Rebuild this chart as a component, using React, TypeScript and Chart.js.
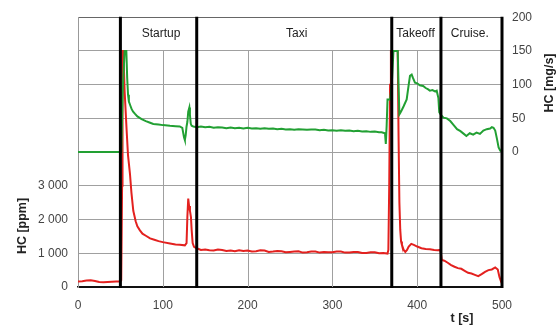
import React, { useEffect, useRef } from 'react';
import { Chart, registerables } from 'chart.js';
Chart.register(...registerables);

// ---- Data ----
const redT = [0, 5, 10, 15, 20, 25, 30, 35, 40, 45, 50, 51, 52, 52.5, 53.5, 55, 57.4, 59, 61.3, 63, 65.2, 68, 70, 73, 76, 80, 85, 90, 95, 100, 108.5, 115, 120, 126, 128, 129, 130, 131, 132, 133.2, 134, 135.2, 136.8, 140,
  145, 150, 155, 160, 165, 170, 175, 180, 185, 190, 195, 200, 205, 210, 215, 220, 225, 230, 235, 240, 245, 250, 255, 260, 265, 270, 275, 280, 285, 290, 295, 300, 305, 310, 315, 320, 325, 330, 335, 340, 345, 350, 355, 360, 365,
  366, 367, 368, 369, 377, 378, 379, 380, 381, 382, 384, 386, 388, 390, 393, 396, 400, 405, 410, 415, 420, 424, 427,
  428, 429, 432, 436, 440, 444, 448, 452, 456, 460, 464, 468, 472, 476, 480, 484, 488, 492, 495, 497, 499, 500];
const redV = [160, 170, 190, 200, 180, 150, 140, 150, 155, 160, 160, 200, 3000, 7000, 7000, 5800, 4620, 3900, 3350, 2800, 2260, 1950, 1800, 1680, 1580, 1520, 1440, 1400, 1360, 1330, 1290, 1260, 1250, 1235, 1300, 2100, 2620, 2400, 2260, 2070, 1700, 1300, 1190, 1150,
  1100, 1110, 1090, 1080, 1110, 1100, 1070, 1080, 1060, 1090, 1070, 1080, 1050, 1060, 1090, 1080, 1040, 1050, 1070, 1060, 1030, 1040, 1050, 1060, 1020, 1030, 1050, 1050, 1020, 1040, 1030, 1030, 1050, 1050, 1020, 1020, 1040, 1040, 1010, 1010, 1030, 1030, 1000, 1010, 990,
  1100, 3000, 6000, 7000, 7000, 4500, 2500, 1700, 1350, 1250, 1100, 1040, 1100, 1200, 1280, 1250, 1200, 1150, 1130, 1120, 1100, 1090, 1100,
  1000, 800, 780, 720, 650, 600, 560, 540, 480, 420, 400, 360, 320, 380, 450, 500, 520, 580, 520, 300, 150, 100];

const greenT = [0, 10, 20, 30, 40, 50, 51, 53, 55, 57, 58, 59, 60, 62, 63.3, 65, 67, 70, 75, 80, 85, 88.8, 95, 100, 108.5, 115, 120, 123, 125, 126, 127, 128, 129, 130, 131.3, 132, 133, 134, 136, 140,
  145, 150, 155, 160, 165, 170, 175, 180, 185, 190, 195, 200, 205, 210, 215, 220, 225, 230, 235, 240, 245, 250, 255, 260, 265, 270, 275, 280, 285, 290, 295, 300, 305, 310, 315, 320, 325, 330, 335, 340, 345, 350, 355, 358, 362, 363, 364, 365, 368, 370, 372,
  377, 378, 379, 380, 381.7, 384, 387.6, 390, 391.5, 393.5, 395, 397.4, 400, 403, 407, 410, 413, 415, 418, 421, 423, 425, 426,
  428, 431, 435, 439, 443, 447, 451, 455, 458, 462, 466, 470, 474, 478, 482, 486, 488, 490, 492, 494, 496, 498, 500];
const greenV = [0, 0, 0, 0, 0, 0, 0, 100, 150, 150, 110, 85, 75, 68, 63.7, 60, 57, 53, 49, 46, 43.5, 41.7, 41, 40, 39, 38.5, 38, 36, 22, 18, 25, 38, 45, 60, 66, 55, 42, 39, 38, 37,
  38, 37, 37.5, 36, 37, 36.5, 35.5, 36.5, 35.5, 36, 35, 36, 35, 35.5, 34.5, 35.5, 34.5, 35, 34, 34.5, 33.5, 34, 33, 34, 33.5, 33, 33.5, 33.5, 32.5, 33, 32, 32.5, 31.5, 32.5, 31.5, 32, 31, 31.5, 30.5, 31, 30, 30.5, 29.5, 29.5, 28, 12, 40, 78, 78, 100, 150,
  150, 100, 56, 58, 62, 68, 78, 100, 113, 115, 110, 103, 102, 99, 98, 95, 93, 91, 92, 90, 91, 80, 59,
  55, 51, 50, 46, 40, 34, 31, 27, 24, 28, 26, 29, 27, 32, 34, 35, 37, 36, 32, 20, 7, 2, 1];

const xTickValues = [0, 100, 200, 300, 400, 500];
const phaseBounds = [50, 140, 370, 428, 500];
const phaseLabels = ['Startup', 'Taxi', 'Takeoff', 'Cruise.'];
const phaseLabelPos = [98, 258, 398, 462];
const leftMax = 8000;
const bandBottom = 7000;
const leftLabelMax = 3000;
const rightMin = -200;
const rightMax = 200;

const FONT = '"Liberation Sans", Arial, sans-serif';

function fmtThousands(v: number): string {
  if (v < 1000) return String(v);
  const th = Math.floor(v / 1000);
  const rest = String(v % 1000).padStart(3, '0');
  return `${th} ${rest}`;
}

const overlay = {
  id: 'overlay',
  beforeDatasetsDraw(chart: any) {
    const { ctx, scales } = chart;
    const x = scales.x, y = scales.y;
    const yBand = y.getPixelForValue(bandBottom);
    const yBot = y.getPixelForValue(0);
    ctx.save();
    ctx.strokeStyle = '#a0a0a0';
    ctx.lineWidth = 1;
    for (const v of xTickValues) {
      if (v === 0 || v === 500) continue;
      const px = Math.round(x.getPixelForValue(v)) + 0.5;
      ctx.beginPath();
      ctx.moveTo(px, yBand);
      ctx.lineTo(px, yBot);
      ctx.stroke();
    }
    ctx.restore();
  },
  afterDatasetsDraw(chart: any) {
    const { ctx, scales } = chart;
    const x = scales.x, y = scales.y;
    const yTop = y.getPixelForValue(leftMax);
    const yBand = y.getPixelForValue(bandBottom);
    const yBot = y.getPixelForValue(0);
    ctx.save();
    ctx.strokeStyle = '#000';
    ctx.lineWidth = 3;
    for (const b of phaseBounds) {
      const px = x.getPixelForValue(b);
      ctx.beginPath();
      ctx.moveTo(px, yTop - 0.5);
      ctx.lineTo(px, yBot + 1);
      ctx.stroke();
    }
    ctx.fillStyle = '#222';
    ctx.font = `12px ${FONT}`;
    ctx.textAlign = 'center';
    ctx.textBaseline = 'middle';
    const yMid = (yTop + yBand) / 2;
    phaseLabels.forEach((l, i) => {
      ctx.fillText(l, x.getPixelForValue(phaseLabelPos[i]), yMid);
    });
    ctx.fillStyle = '#222';
    ctx.font = `bold 12.5px ${FONT}`;
    ctx.save();
    ctx.translate(23, 226);
    ctx.rotate(-Math.PI / 2);
    ctx.fillText('HC [ppm]', 0, 0);
    ctx.restore();
    ctx.save();
    ctx.translate(550, 83);
    ctx.rotate(-Math.PI / 2);
    ctx.fillText('HC [mg/s]', 0, 0);
    ctx.restore();
    ctx.fillText('t [s]', 462, 319);
    ctx.restore();
  },
};

export default function App() {
  const ref = useRef<HTMLCanvasElement | null>(null);
  useEffect(() => {
    if (!ref.current) return;
    const chart = new Chart(ref.current, {
      type: 'line',
      data: {
        datasets: [
          {
            label: 'HC mg/s',
            data: greenT.map((t, i) => ({ x: t, y: greenV[i] })),
            yAxisID: 'y2',
            borderColor: '#22a033',
            borderWidth: 2,
            pointRadius: 0,
            tension: 0,
          },
          {
            label: 'HC ppm',
            data: redT.map((t, i) => ({ x: t, y: redV[i] })),
            yAxisID: 'y',
            borderColor: '#e3211f',
            borderWidth: 2,
            pointRadius: 0,
            tension: 0,
          },
        ],
      },
      options: {
        responsive: false,
        animation: false,
        devicePixelRatio: 1,
        layout: { padding: { top: 14, left: 0, right: 0, bottom: 0 } },
        plugins: { legend: { display: false }, tooltip: { enabled: false } },
        scales: {
          x: {
            type: 'linear',
            min: 0,
            max: 500,
            afterFit: (s: any) => { s.height = 47; },
            afterBuildTicks: (s: any) => { s.ticks = xTickValues.map((v) => ({ value: v })); },
            ticks: { color: '#444', font: { family: FONT, size: 12 }, padding: 11, maxRotation: 0 },
            grid: { display: false, drawTicks: false },
            border: { display: true, color: '#111', width: 1.5 },
          },
          y: {
            type: 'linear',
            position: 'left',
            min: 0,
            max: leftMax,
            afterFit: (s: any) => { s.width = 78; },
            ticks: {
              stepSize: 1000,
              color: '#444',
              font: { family: FONT, size: 12 },
              padding: 10,
              callback: (v: any) => (v <= leftLabelMax ? fmtThousands(v) : ''),
            },
            grid: {
              drawTicks: false,
              color: (c: any) => (c.tick && c.tick.value === leftMax ? '#666' : c.tick && c.tick.value === 0 ? '#111' : '#a0a0a0'),
              lineWidth: 1,
            },
            border: { display: true, color: '#999', width: 1 },
          },
          y2: {
            type: 'linear',
            position: 'right',
            min: rightMin,
            max: rightMax,
            afterFit: (s: any) => { s.width = 55; },
            ticks: {
              stepSize: 50,
              color: '#444',
              font: { family: FONT, size: 12 },
              padding: 10,
              callback: (v: any) => (v >= 0 ? String(v) : ''),
            },
            grid: { display: false, drawTicks: false },
            border: { display: false },
          },
        },
      },
      plugins: [overlay],
    } as any);
    return () => chart.destroy();
  }, []);
  return (
    <div style={{ position: 'fixed', left: 0, top: 0, width: 557, height: 334, background: '#fff' }}>
      <canvas ref={ref} width={557} height={334} />
    </div>
  );
}
